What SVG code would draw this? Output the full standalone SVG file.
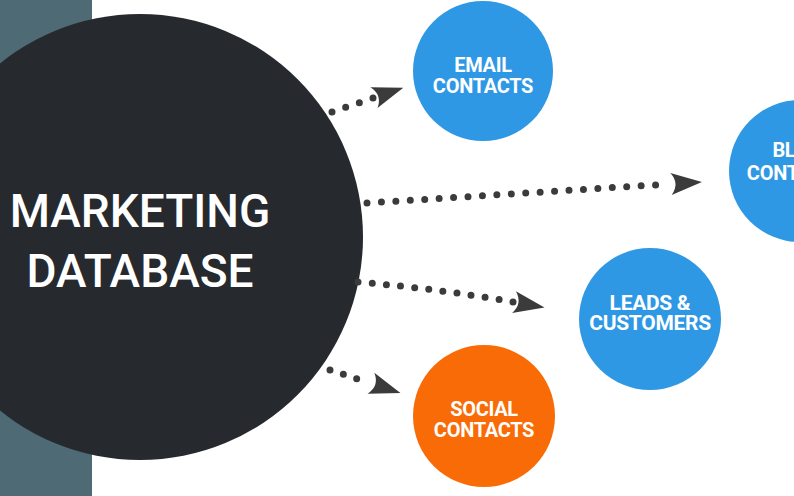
<svg xmlns="http://www.w3.org/2000/svg" width="794" height="496" viewBox="0 0 794 496">
  <style>
    .bg { fill: #ffffff; }
    .strip { fill: #4e6a75; }
    .hub { fill: #26292e; }
    .hubtext { font-family: Roboto, "Liberation Sans", sans-serif; font-weight: 500; font-size: 46px; fill: #ffffff; text-anchor: middle; }
    .blue { fill: #2f98e5; }
    .orange { fill: #f96b06; }
    .label { font-family: Roboto, "Liberation Sans", sans-serif; font-weight: bold; font-size: 20px; fill: #ffffff; text-anchor: middle; letter-spacing: -0.3px; }
    .dots { fill: none; stroke: #3b3b3b; stroke-width: 7; stroke-linecap: round; stroke-dasharray: 0 1; }
  </style>
  <defs>
    <marker id="head" markerUnits="userSpaceOnUse" orient="auto" markerWidth="40" markerHeight="30" viewBox="-5 -15 40 30" refX="0" refY="0" overflow="visible">
      <path d="M1,-11 L32,0 L1,11 Q10,0 1,-11 Z" fill="#3b3b3b"/>
    </marker>
  </defs>

  <rect class="bg" x="0" y="0" width="794" height="496"/>
  <rect class="strip" x="0" y="0" width="92" height="496"/>

  <g id="marketing-database">
    <circle class="hub" cx="140" cy="237" r="223"/>
    <text class="hubtext" x="140" y="227">MARKETING</text>
    <text class="hubtext" x="140" y="287">DATABASE</text>
  </g>

  <g id="connectors">
    <path class="dots" d="M332,112 L373,98" pathLength="3" marker-end="url(#head)"/>
    <path class="dots" d="M367,203 L670,184" pathLength="21" marker-end="url(#head)"/>
    <path class="dots" d="M358,282 Q440,289 513,302" pathLength="11" marker-end="url(#head)"/>
    <path class="dots" d="M330,370 L370,383" pathLength="3" marker-end="url(#head)"/>
  </g>

  <g id="email-contacts">
    <circle class="blue" cx="483" cy="71" r="70"/>
    <text class="label" x="483" y="72">EMAIL</text>
    <text class="label" x="483" y="93">CONTACTS</text>
  </g>

  <g id="blog-contacts">
    <circle class="blue" cx="800" cy="171" r="71"/>
    <text class="label" x="797" y="157">BLOG</text>
    <text class="label" x="797" y="180">CONTACTS</text>
  </g>

  <g id="leads-customers">
    <circle class="blue" cx="650" cy="319" r="71"/>
    <text class="label" x="650" y="310" style="font-size:21px">LEADS &amp;</text>
    <text class="label" x="650" y="330" style="font-size:21px">CUSTOMERS</text>
  </g>

  <g id="social-contacts">
    <circle class="orange" cx="484" cy="416" r="71"/>
    <text class="label" x="484" y="416">SOCIAL</text>
    <text class="label" x="484" y="437">CONTACTS</text>
  </g>
</svg>
